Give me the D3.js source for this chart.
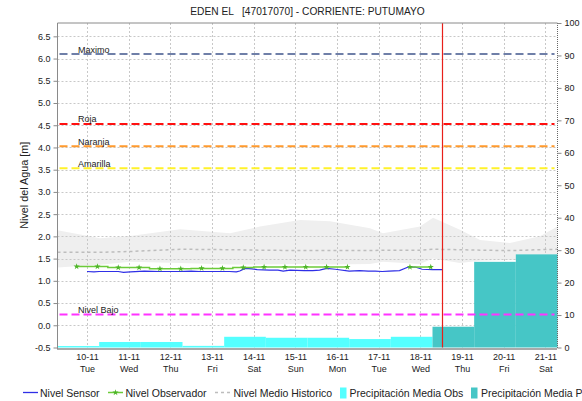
<!DOCTYPE html>
<html><head><meta charset="utf-8">
<script src="https://cdn.jsdelivr.net/npm/d3@7"></script>
<style>body{margin:0;background:#fff} svg{display:block;font-family:Arial,"Liberation Sans",sans-serif}</style>
</head><body><svg id="c" width="582" height="401"></svg>
<script>
// ---------- data ----------
const chartTitle = "EDEN EL   [47017070] - CORRIENTE: PUTUMAYO";
const yLabel = "Nivel del Agua [m]";
const dayLabels = ["10-11","11-11","12-11","13-11","14-11","15-11","16-11","17-11","18-11","19-11","20-11","21-11"];
const weekdayLabels = ["Tue","Wed","Thu","Fri","Sat","Sun","Mon","Tue","Wed","Thu","Fri","Sat"];
const leftTicks = [-0.5,0,0.5,1,1.5,2,2.5,3,3.5,4,4.5,5,5.5,6,6.5];
const rightTicks = [0,10,20,30,40,50,60,70,80,90,100];

// daily precipitation (07:00 -> 07:00), right axis
const precipObsDays = ["09-11","10-11","11-11","12-11","13-11","14-11","15-11","16-11","17-11"];
const precipObs = [0.45,1.7,1.7,0.5,3.3,3.0,3.0,2.6,3.3];
const precipFcstDays = ["18-11","19-11","20-11"];
const precipFcst = [6.4,26.4,28.7];

// historic band (hours after 09-11 07:00)
const histHours = [0,24.5,41.8,70.6,99.4,116.6,139.7,157,180,187.5,208.8,216.3,231.8,243.4,260.6,277.9,288];
const histUpper = [2.14,1.96,2.01,2.16,2.07,2.22,2.37,2.34,2.18,2.07,2.22,2.42,2.15,1.92,1.85,2.0,2.22];
const histLower = [1.30,1.36,1.43,1.40,1.37,1.37,1.38,1.37,1.38,1.43,1.38,1.50,1.40,1.45,1.47,1.47,1.47];
const histMean  = [1.64,1.64,1.66,1.71,1.70,1.69,1.68,1.68,1.68,1.69,1.69,1.71,1.70,1.69,1.68,1.70,1.71];

// sensor level (hours after 10-11 00:00)
const sensorHours = [0,4,7,12,18,21,25,33,42,48,53,60,65,70,76,82,86,88,91,95,98,105,110,113,117,125,130,134,138,143,151,157,162,166,170,174,180,185,189,193,199,204.7];
const sensorLevel = [1.21,1.20,1.21,1.21,1.21,1.19,1.20,1.22,1.21,1.21,1.21,1.22,1.21,1.21,1.21,1.21,1.20,1.22,1.28,1.27,1.25,1.24,1.24,1.22,1.24,1.23,1.23,1.24,1.28,1.26,1.22,1.23,1.22,1.22,1.21,1.22,1.23,1.31,1.31,1.26,1.25,1.25];

// observer level (hours after 10-11 00:00), null = missing
const obsHours = [-6,6,18,30,42,54,66,78,90,102,114,126,138,150,162,174,186,198];
const obsLevel = [1.32,1.32,1.30,1.30,1.27,1.27,1.28,1.28,1.30,1.31,1.31,1.31,1.31,1.31,null,null,1.31,1.31];

// threshold levels
const thresholdNames = ["Maximo","Roja","Naranja","Amarilla","Nivel Bajo"];
const thresholdValues = [6.1,4.53,4.03,3.53,0.24];
const nowTime = "2020-11-18T12:40";

const legendNames = ["Nivel Sensor","Nivel Observador","Nivel Medio Historico","Precipitación Media Obs","Precipitación Media Pronosticada"];

// ---------- styles ----------
const thresholdColors = ["#6F7FA8","#FF1010","#FF9A2E","#FFF22A","#FF33FF"];
const C = {sensor:"#2F2FE6", obs:"#6CCB3A", obsMark:"#4DB528", band:"#EFEFEF", mean:"#BDBDBD",
           pObs:"#55FFFF", pFcst:"#46C6C6", grid:"#C8C8C8", axis:"#8A8A8A", text:"#222"};

// ---------- helpers ----------
const parseDay = s => { const [d,m] = s.split("-").map(Number); return new Date(2020, m-1, d); };
const addH = (date, h) => new Date(date.getTime() + h*3600e3);
const t0 = addH(parseDay("09-11"), 7);
const tEnd = addH(parseDay("21-11"), 7);
const sensorRef = parseDay("10-11");

const L = 57.5, R = 557.5, T = 23, B = 347.5;
const svg = d3.select("#c");
const x = d3.scaleTime().domain([t0, tEnd]).range([L, R]);
const yL = d3.scaleLinear().domain([-0.5, 6.8]).range([B, T]);
const yR = d3.scaleLinear().domain([0, 100]).range([B, T]);

const dayDates = dayLabels.map(parseDay);

// historic band
const hist = histHours.map((h,i)=>({t:addH(t0,h), u:histUpper[i], l:histLower[i], m:histMean[i]}));
svg.append("path").datum(hist)
  .attr("fill", C.band)
  .attr("d", d3.area().x(d=>x(d.t)).y0(d=>yL(d.l)).y1(d=>yL(d.u)));

// gridlines
const grid = svg.append("g").attr("stroke", C.grid).attr("stroke-dasharray","2,2").attr("stroke-width",1);
grid.selectAll(".h").data(leftTicks.filter(v=>v>-0.5)).join("line")
  .attr("x1",L).attr("x2",R).attr("y1",d=>Math.round(yL(d))+0.5).attr("y2",d=>Math.round(yL(d))+0.5);
grid.selectAll(".v").data(dayDates).join("line")
  .attr("y1",T).attr("y2",B).attr("x1",d=>Math.round(x(d))+0.5).attr("x2",d=>Math.round(x(d))+0.5);

// historic mean
svg.append("path").datum(hist).attr("fill","none").attr("stroke",C.mean).attr("stroke-width",1.5)
  .attr("stroke-dasharray","3,3")
  .attr("d", d3.line().x(d=>x(d.t)).y(d=>yL(d.m)));

// precipitation bars
const bars = (days, vals, color) => {
  svg.append("g").selectAll("rect").data(vals).join("rect")
    .attr("x", (d,i)=>x(addH(parseDay(days[i]),7)))
    .attr("width", (d,i)=>x(addH(parseDay(days[i]),31)) - x(addH(parseDay(days[i]),7)))
    .attr("y", d=>yR(d)).attr("height", d=>yR(0)-yR(d))
    .attr("fill", color);
};
bars(precipObsDays, precipObs, C.pObs);
bars(precipFcstDays, precipFcst, C.pFcst);

// thresholds
const th = svg.append("g");
thresholdValues.forEach((v,i)=>{
  th.append("line").attr("x1",L+2).attr("x2",R-3).attr("y1",yL(v)).attr("y2",yL(v))
    .attr("stroke",thresholdColors[i]).attr("stroke-width",2).attr("stroke-dasharray","8,4");
  th.append("text").attr("x",78).attr("y",yL(v)-1.5).attr("font-size",9).attr("fill",C.text)
    .text(thresholdNames[i]);
});

// sensor
const sensor = sensorHours.map((h,i)=>({t:addH(sensorRef,h), v:sensorLevel[i]}));
svg.append("path").datum(sensor).attr("fill","none").attr("stroke",C.sensor).attr("stroke-width",1.2)
  .attr("d", d3.line().x(d=>x(d.t)).y(d=>yL(d.v)));

// observer
const obs = obsHours.map((h,i)=>({t:addH(sensorRef,h), v:obsLevel[i]}));
svg.append("path").datum(obs).attr("fill","none").attr("stroke",C.obs).attr("stroke-width",1.5)
  .attr("d", d3.line().defined(d=>d.v!=null).curve(d3.curveStep).x(d=>x(d.t)).y(d=>yL(d.v)));
svg.append("g").selectAll("path").data(obs.filter(d=>d.v!=null)).join("path")
  .attr("transform", d=>`translate(${x(d.t)},${yL(d.v)})`)
  .attr("d", d3.symbol(d3.symbolStar, 12)).attr("fill", C.obsMark);

// now line
const nx = Math.round(x(new Date(nowTime)))+0.5;
svg.append("line").attr("x1",nx).attr("x2",nx).attr("y1",T).attr("y2",B)
  .attr("stroke","#E8201A").attr("stroke-width",1.2);

// borders
svg.append("line").attr("x1",L).attr("x2",R).attr("y1",T).attr("y2",T).attr("stroke",C.axis);
svg.append("line").attr("x1",L).attr("x2",L).attr("y1",T).attr("y2",B+1).attr("stroke",C.axis);
svg.append("line").attr("x1",R).attr("x2",R).attr("y1",T).attr("y2",B+1).attr("stroke","#666").attr("stroke-dasharray","1,1");
svg.append("line").attr("x1",L).attr("x2",R).attr("y1",B+1.5).attr("y2",B+1.5).attr("stroke","#555")
  .attr("stroke-width",2).attr("stroke-dasharray","1,1");

// axes
const styleAxis = g => { g.select(".domain").remove(); g.selectAll("line").attr("stroke",C.axis);
  g.selectAll("text").attr("fill",C.text).attr("font-size",9).attr("font-family","Arial, 'Liberation Sans', sans-serif"); };
svg.append("g").attr("transform",`translate(${L},0)`)
  .call(d3.axisLeft(yL).tickValues(leftTicks).tickSize(4).tickPadding(3).tickFormat(d=>d.toFixed(1)))
  .call(styleAxis);
svg.append("g").attr("transform",`translate(${R},0)`)
  .call(d3.axisRight(yR).tickValues(rightTicks).tickSize(4).tickPadding(3).tickFormat(d=>String(d)))
  .call(styleAxis);
const xa = svg.append("g").attr("transform",`translate(0,${B})`)
  .call(d3.axisBottom(x).tickValues(dayDates).tickSize(0).tickFormat((d,i)=>dayLabels[i]))
  .call(styleAxis);
xa.selectAll("text").each(function(d,i){
  const t = d3.select(this).attr("dy",null).attr("y",null).text(null);
  t.append("tspan").attr("x",0).attr("y",12.5).text(dayLabels[i]);
  t.append("tspan").attr("x",0).attr("y",24.2).text(weekdayLabels[i]);
});

// title
svg.append("text").attr("x",(L+R)/2).attr("y",15).attr("text-anchor","middle")
  .attr("font-size",10.2).attr("fill",C.text).style("white-space","pre").text(chartTitle);
// y label
svg.append("text").attr("transform",`translate(28,${(T+B)/2}) rotate(-90)`).attr("text-anchor","middle")
  .attr("font-size",10.8).attr("fill",C.text).text(yLabel);

// legend
const lg = svg.append("g").attr("font-size",10.5).attr("fill",C.text);
const ly = 392.5, lb = 396.5;
lg.append("line").attr("x1",23).attr("x2",38).attr("y1",ly).attr("y2",ly).attr("stroke",C.sensor).attr("stroke-width",1.3);
lg.append("text").attr("x",40).attr("y",lb).text(legendNames[0]);
lg.append("line").attr("x1",108).attr("x2",123).attr("y1",ly).attr("y2",ly).attr("stroke",C.obs).attr("stroke-width",1.5);
lg.append("path").attr("transform",`translate(115.5,${ly})`).attr("d",d3.symbol(d3.symbolStar,12)).attr("fill",C.obsMark);
lg.append("text").attr("x",125.5).attr("y",lb).text(legendNames[1]);
lg.append("line").attr("x1",215).attr("x2",230).attr("y1",ly).attr("y2",ly).attr("stroke",C.mean).attr("stroke-width",1.5).attr("stroke-dasharray","3,3");
lg.append("text").attr("x",233.5).attr("y",lb).text(legendNames[2]);
lg.append("rect").attr("x",340).attr("y",387.5).attr("width",6.5).attr("height",11).attr("fill",C.pObs);
lg.append("text").attr("x",349.5).attr("y",lb).text(legendNames[3]);
lg.append("rect").attr("x",471).attr("y",387.5).attr("width",6.5).attr("height",11).attr("fill",C.pFcst);
lg.append("text").attr("x",481).attr("y",lb).text(legendNames[4]);
</script></body></html>
